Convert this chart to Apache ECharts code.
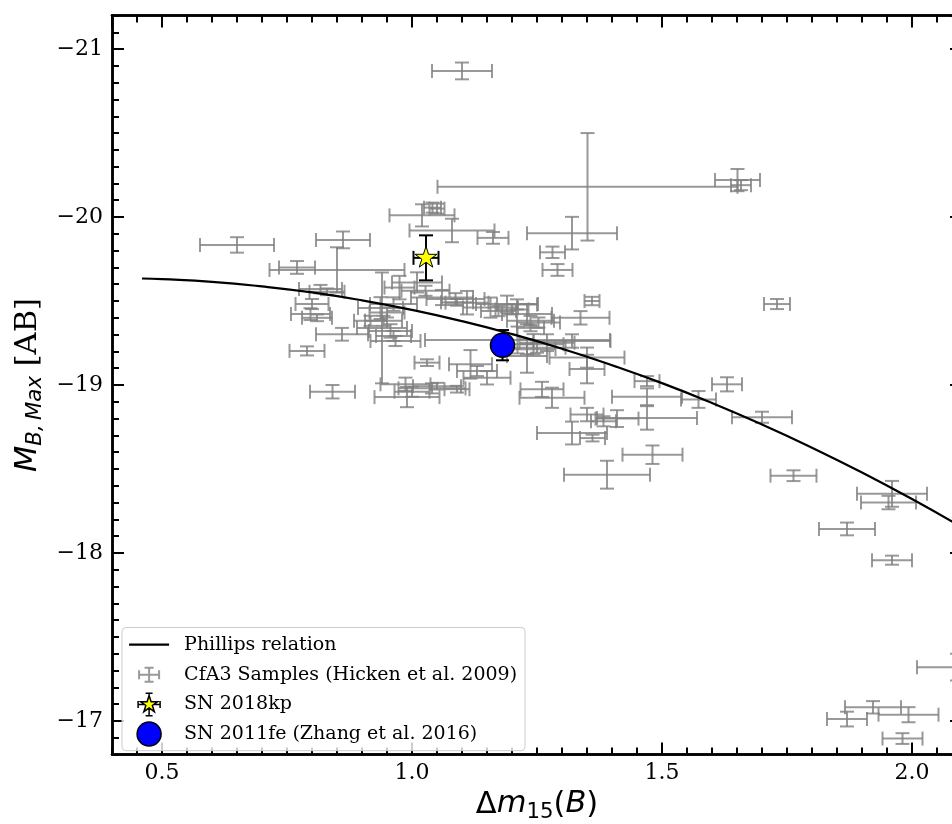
<!DOCTYPE html>
<html>
<head>
<meta charset="utf-8">
<script src="https://cdn.jsdelivr.net/npm/echarts@6/dist/echarts.min.js"></script>
<style>
html,body{margin:0;padding:0;background:#ffffff;}
#chart{width:952px;height:824px;}
</style>
</head>
<body>
<div id="chart"></div>
<script>
// ---- data ----
const cfaX = [1.10, 1.351, 1.651, 1.658, 0.65, 0.862, 1.02, 1.041, 1.05, 1.08,
  1.162, 1.32, 1.281, 1.291, 0.85, 0.77, 0.817, 0.83, 0.80, 0.797,
  0.81, 0.86, 0.79, 0.841, 0.94, 0.937, 0.917, 0.963, 0.975, 0.987,
  1.0, 1.01, 1.027, 1.06, 1.087, 1.09, 1.11, 1.157, 1.19, 1.173,
  0.963, 0.95, 0.943, 0.957, 0.967, 1.23, 1.237, 1.237, 1.27, 1.25,
  1.117, 1.13, 1.03, 1.05, 1.04, 1.09, 0.99, 1.211, 1.35, 1.15,
  1.26, 1.28, 1.32, 1.361, 1.35, 1.383, 1.337, 1.253, 1.36, 1.73,
  1.63, 1.47, 1.47, 1.573, 1.70, 1.47, 1.41, 1.481, 1.39, 1.763,
  1.32, 1.35, 1.21, 1.2, 1.243, 1.23, 1.23, 1.96, 1.953, 1.87,
  1.96, 2.09, 1.922, 1.87, 1.993, 1.981];
const cfaY = [-20.87, -20.18, -20.22, -20.19, -19.834, -19.864, -20.01, -20.056, -20.05, -19.92,
  -19.876, -19.904, -19.79, -19.685, -19.685, -19.70, -19.571, -19.555, -19.482, -19.422,
  -19.40, -19.302, -19.203, -18.96, -19.34, -19.458, -19.382, -19.292, -19.58, -19.004,
  -18.96, -19.611, -19.561, -19.521, -19.512, -19.492, -19.49, -19.461, -19.482, -19.44,
  -19.482, -19.432, -19.382, -19.322, -19.262, -19.422, -19.382, -19.34, -19.252, -19.222,
  -19.123, -19.083, -19.133, -18.993, -18.98, -18.975, -18.928, -19.268, -19.095, -19.043,
  -18.974, -18.924, -18.714, -18.684, -18.824, -18.784, -19.40, -19.372, -19.50, -19.482,
  -19.004, -19.023, -18.93, -18.914, -18.808, -18.804, -18.80, -18.585, -18.466, -18.46,
  -19.262, -19.163, -19.48, -19.45, -19.243, -19.213, -19.173, -18.352, -18.30, -18.143,
  -17.957, -17.32, -17.081, -17.011, -17.037, -16.895];
const cfaXErr = [0.06, 0.30, 0.045, 0.02, 0.074, 0.054, 0.065, 0.017, 0.015, 0.085,
  0.031, 0.09, 0.025, 0.03, 0.135, 0.036, 0.043, 0.035, 0.033, 0.039,
  0.03, 0.052, 0.035, 0.045, 0.05, 0.045, 0.033, 0.035, 0.03, 0.05,
  0.035, 0.05, 0.048, 0.062, 0.058, 0.032, 0.043, 0.055, 0.062, 0.035,
  0.047, 0.035, 0.037, 0.043, 0.05, 0.05, 0.047, 0.027, 0.055, 0.057,
  0.043, 0.04, 0.025, 0.048, 0.067, 0.025, 0.065, 0.185, 0.035, 0.047,
  0.043, 0.065, 0.07, 0.025, 0.033, 0.025, 0.058, 0.043, 0.015, 0.026,
  0.03, 0.025, 0.07, 0.035, 0.06, 0.1, 0.043, 0.06, 0.086, 0.046,
  0.077, 0.075, 0.04, 0.033, 0.06, 0.057, 0.04, 0.07, 0.055, 0.056,
  0.04, 0.08, 0.056, 0.04, 0.06, 0.04];
const cfaYErr = [0.05, 0.32, 0.066, 0.03, 0.046, 0.05, 0.066, 0.03, 0.03, 0.07,
  0.035, 0.097, 0.034, 0.035, 0.135, 0.038, 0.025, 0.02, 0.03, 0.035,
  0.02, 0.038, 0.027, 0.04, 0.33, 0.065, 0.03, 0.03, 0.07, 0.04,
  0.03, 0.06, 0.03, 0.045, 0.035, 0.02, 0.07, 0.06, 0.05, 0.03,
  0.04, 0.03, 0.03, 0.04, 0.03, 0.06, 0.03, 0.02, 0.05, 0.03,
  0.085, 0.03, 0.02, 0.02, 0.03, 0.02, 0.06, 0.08, 0.085, 0.04,
  0.045, 0.06, 0.068, 0.02, 0.04, 0.03, 0.04, 0.03, 0.025, 0.03,
  0.042, 0.03, 0.05, 0.05, 0.033, 0.07, 0.05, 0.055, 0.083, 0.032,
  0.04, 0.06, 0.03, 0.03, 0.06, 0.03, 0.1, 0.077, 0.04, 0.038,
  0.027, 0.08, 0.037, 0.044, 0.045, 0.032];

const phillipsX = [0.46, 0.5, 0.6, 0.7, 0.8, 0.9, 1.0, 1.1, 1.2, 1.3, 1.4, 1.5, 1.6, 1.7, 1.8, 1.9, 2.0, 2.1];
const phillipsY = [-19.634, -19.630, -19.614, -19.587, -19.551, -19.504, -19.447, -19.380, -19.303,
  -19.216, -19.118, -19.011, -18.893, -18.765, -18.627, -18.479, -18.321, -18.153];

const kpX = [1.028], kpY = [-19.757], kpXErr = [0.025], kpYErr = [0.134];
const feX = [1.181], feY = [-19.237], feXErr = [0.0], feYErr = [0.09];

const xMajorTicks = ['0.5', '1.0', '1.5', '2.0'];
const yMajorTicks = ['−21', '−20', '−19', '−18', '−17'];

const names = ['Phillips relation', 'CfA3 Samples (Hicken et al. 2009)', 'SN 2018kp', 'SN 2011fe (Zhang et al. 2016)'];

// ---- helpers ----
const zip4 = (a, b, c, d) => a.map((v, i) => [v, b[i], c[i], d[i]]);
const GREY = 'rgba(128,128,128,0.8)';

function errorBars(color, lw, cap) {
  return function (params, api) {
    const x = api.value(0), y = api.value(1), ex = api.value(2), ey = api.value(3);
    const st = { stroke: color, lineWidth: lw, fill: null };
    const seg = (x1, y1, x2, y2) => ({ type: 'line', shape: { x1, y1, x2, y2 }, style: st });
    const ch = [];
    if (ex > 0) {
      const L = api.coord([x - ex, y]), R = api.coord([x + ex, y]);
      ch.push(seg(L[0], L[1], R[0], R[1]));
      ch.push(seg(L[0], L[1] - cap, L[0], L[1] + cap));
      ch.push(seg(R[0], R[1] - cap, R[0], R[1] + cap));
    }
    if (ey > 0) {
      const T = api.coord([x, y - ey]), B = api.coord([x, y + ey]);
      ch.push(seg(T[0], T[1], B[0], B[1]));
      ch.push(seg(T[0] - cap, T[1], T[0] + cap, T[1]));
      ch.push(seg(B[0] - cap, B[1], B[0] + cap, B[1]));
    }
    return { type: 'group', children: ch };
  };
}

const starPath = 'path://M10,0 L12.245,6.910 L19.511,6.910 L13.633,11.180 L15.878,18.090 L10,13.820 L4.122,18.090 L6.367,11.180 L0.489,6.910 L7.755,6.910 Z M10,20 L10,20';
const legendStar = 'path://M0,0 L0,0 M24,24 L24,24 ' +
  'M12,3 L14.02,9.22 L20.56,9.22 L15.27,13.06 L17.29,19.28 L12,15.44 L6.71,19.28 L8.73,13.06 L3.44,9.22 L9.98,9.22 Z ' +
  'M12,0.8 L12,3 M8.5,0.8 L15.5,0.8 M12,15.44 L12,23.2 M8.5,23.2 L15.5,23.2 ' +
  'M1,12 L7.27,12 M1,8.5 L1,15.5 M16.73,12 L23,12 M23,8.5 L23,15.5';
const legendErr = 'path://M0,0 L0,0 M24,24 L24,24 ' +
  'M2,12 L22,12 M2,7.5 L2,16.5 M22,7.5 L22,16.5 M12,5 L12,19 M7.5,5 L16.5,5 M7.5,19 L16.5,19';
const legendLine = 'path://M0,0 L0,0 M40,24 L40,24 M0,12 L40,12';

const serif = 'DejaVu Serif';
const sans = 'DejaVu Sans';
const NAME_FS = 30.5, SUB_FS = 21.3;

const xMajorFmt = v => {
  const s = Number(v).toFixed(1);
  return xMajorTicks.indexOf(s) >= 0 && Math.abs(v * 2 - Math.round(v * 2)) < 1e-6 ? s : '';
};
const yMajorFmt = v => {
  if (Math.abs(v - Math.round(v)) > 1e-6) return '';
  const s = '−' + Math.abs(Math.round(v));
  return yMajorTicks.indexOf(s) >= 0 ? s : '';
};

const axisLine = { show: true, onZero: false, lineStyle: { color: '#000', width: 2.5 } };
const majorTick = { show: true, inside: true, length: 12, lineStyle: { color: '#000', width: 2 } };
const minorTick = { show: true, inside: true, length: 7, lineStyle: { color: '#000', width: 2 } };

const xBase = { type: 'value', min: 0.4, max: 2.1, splitLine: { show: false } };
const yBase = { type: 'value', min: -21.2, max: -16.8, inverse: true, splitLine: { show: false } };

const option = {
  animation: false,
  backgroundColor: '#ffffff',
  grid: { left: 112, top: 15.5, width: 850, height: 739, containLabel: false, outerBoundsMode: 'none' },
  xAxis: [
    Object.assign({}, xBase, {
      position: 'bottom', splitNumber: 4, axisLine, axisTick: majorTick,
      axisLabel: { show: true, margin: 8, formatter: xMajorFmt, showMinLabel: false, showMaxLabel: false,
        fontFamily: serif, fontSize: 22, color: '#000' },
      name: '{n|Δ}{i|m}{s|15}{n|(}{i|B}{n|)}',
      nameLocation: 'middle', nameGap: 35,
      nameTextStyle: {
        rich: {
          n: { fontFamily: sans, fontSize: NAME_FS, lineHeight: 31, verticalAlign: 'top', color: '#000' },
          i: { fontFamily: sans, fontStyle: 'italic', fontSize: NAME_FS, lineHeight: 31, verticalAlign: 'top', color: '#000' },
          s: { fontFamily: sans, fontSize: SUB_FS, lineHeight: 21.3, verticalAlign: 'top', padding: [12, 0, 0, 0], color: '#000' }
        }
      }
    }),
    Object.assign({}, xBase, { position: 'bottom', interval: 0.05, axisLine, axisTick: minorTick, axisLabel: { show: false } }),
    Object.assign({}, xBase, { position: 'top', splitNumber: 4, axisLine, axisTick: majorTick, axisLabel: { show: false } }),
    Object.assign({}, xBase, { position: 'top', interval: 0.05, axisLine, axisTick: minorTick, axisLabel: { show: false } })
  ],
  yAxis: [
    Object.assign({}, yBase, {
      position: 'left', splitNumber: 5, axisLine, axisTick: majorTick,
      axisLabel: { show: true, margin: 9, formatter: yMajorFmt, showMinLabel: false, showMaxLabel: false,
        fontFamily: serif, fontSize: 22, color: '#000' },
      name: '{i|M}{s|B,\u2009Max}{r| [AB]}',
      nameLocation: 'middle', nameRotate: 90, nameGap: 60,
      nameTextStyle: {
        rich: {
          i: { fontFamily: sans, fontStyle: 'italic', fontSize: NAME_FS, lineHeight: 31, verticalAlign: 'top', color: '#000' },
          s: { fontFamily: sans, fontStyle: 'italic', fontSize: SUB_FS, lineHeight: 21.3, verticalAlign: 'top', padding: [12, 0, 0, 0], color: '#000' },
          r: { fontFamily: serif, fontSize: NAME_FS, lineHeight: 31, verticalAlign: 'top', color: '#000' }
        }
      }
    }),
    Object.assign({}, yBase, { position: 'left', interval: 0.1, axisLine, axisTick: minorTick, axisLabel: { show: false } }),
    Object.assign({}, yBase, { position: 'right', splitNumber: 5, axisLine, axisTick: majorTick, axisLabel: { show: false } }),
    Object.assign({}, yBase, { position: 'right', interval: 0.1, axisLine, axisTick: minorTick, axisLabel: { show: false } })
  ],
  legend: {
    left: 122, top: 627.5, orient: 'vertical',
    itemWidth: 40, itemHeight: 24, itemGap: 4,
    padding: [4, 8, 4, 6],
    backgroundColor: 'rgba(255,255,255,0.8)', borderColor: '#cccccc', borderWidth: 1, borderRadius: 4,
    textStyle: { fontFamily: serif, fontSize: 19, lineHeight: 24, color: '#000', padding: [0, 0, 0, 10] },
    data: [
      { name: names[0], icon: legendLine, itemStyle: { color: 'transparent', borderColor: '#000', borderWidth: 2.2 } },
      { name: names[1], icon: legendErr, itemStyle: { color: 'transparent', borderColor: GREY, borderWidth: 2 } },
      { name: names[2], icon: legendStar, itemStyle: { color: '#ffff00', borderColor: '#000', borderWidth: 1.5 } },
      { name: names[3], icon: 'circle', itemStyle: { color: '#0000ff', borderColor: '#000', borderWidth: 1.5 } }
    ]
  },
  series: [
    {
      name: names[1], type: 'custom', z: 2,
      renderItem: errorBars(GREY, 2, 7),
      data: zip4(cfaX, cfaY, cfaXErr, cfaYErr),
      encode: { x: 0, y: 1 },
      itemStyle: { color: GREY }
    },
    {
      name: names[0], type: 'line', z: 3,
      data: phillipsX.map((x, i) => [x, phillipsY[i]]),
      showSymbol: false, symbol: 'none', smooth: true,
      lineStyle: { color: '#000', width: 2.2 },
      itemStyle: { color: '#000' }
    },
    {
      name: names[2], type: 'custom', z: 4,
      renderItem: errorBars('#000', 2, 7),
      data: zip4(kpX, kpY, kpXErr, kpYErr),
      encode: { x: 0, y: 1 },
      itemStyle: { color: '#ffff00' }
    },
    {
      name: names[3], type: 'custom', z: 4,
      renderItem: errorBars('#000', 2, 6.5),
      data: zip4(feX, feY, feXErr, feYErr),
      encode: { x: 0, y: 1 },
      itemStyle: { color: '#0000ff' }
    },
    {
      name: names[2], type: 'scatter', z: 5,
      data: kpX.map((x, i) => [x, kpY[i]]),
      symbol: starPath, symbolSize: 23, symbolKeepAspect: true,
      itemStyle: { color: '#ffff00', borderColor: '#000', borderWidth: 1, opacity: 1 }
    },
    {
      name: names[3], type: 'scatter', z: 5,
      data: feX.map((x, i) => [x, feY[i]]),
      symbol: 'circle', symbolSize: 24,
      itemStyle: { color: '#0000ff', borderColor: '#000', borderWidth: 1.5, opacity: 1 }
    }
  ]
};

const chart = echarts.init(document.getElementById('chart'), null, { renderer: 'canvas' });
chart.setOption(option);
</script>
</body>
</html>
